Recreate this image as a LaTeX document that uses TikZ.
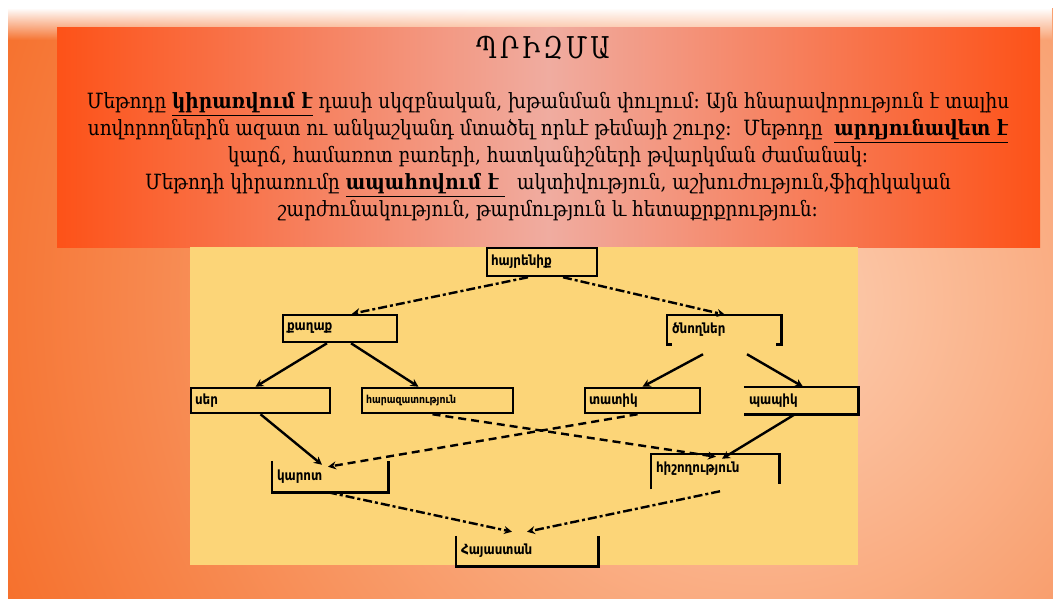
\documentclass[tikz,border=0pt]{standalone}
\usepackage{fontspec}
\usetikzlibrary{arrows.meta,fadings}
\newfontfamily\armserif[FakeStretch=0.88]{DejaVu Serif}
\newfontfamily\armtitle[FakeStretch=0.8]{DejaVu Serif}
\newfontfamily\armsans[FakeStretch=0.85]{DejaVu Sans}
\newcommand\ubf[1]{\underline{\textbf{#1}}}
\newcommand\tsp{\hspace{3pt}}
\definecolor{bgorange}{RGB}{245,102,30}
\definecolor{bglight}{RGB}{252,208,180}
\definecolor{boxred}{RGB}{253,82,24}
\definecolor{boxpink}{RGB}{240,172,160}
\definecolor{panel}{RGB}{252,213,120}
\tikzset{
  wbox/.style={draw=black, line width=2.5pt, minimum height=#1, inner xsep=4pt, inner ysep=0pt,
    align=left, font=\armsans\bfseries\fontsize{14}{16}\selectfont},
  openbox/.style={wbox=#1, draw=none},
  conn/.style={line width=2.4pt, -{Stealth[length=8pt,width=8pt]}},
  dashdotline/.style={conn, dash pattern=on 9pt off 3pt on 3pt off 3pt},
  dashline/.style={conn, dash pattern=on 8pt off 5pt},
  brframe/.style={line width=2.5pt, black}
}
\begin{document}
\begin{tikzpicture}[x=1pt,y=-1pt]
\useasboundingbox (0,0) rectangle (1053,598);
\fill[white] (0,0) rectangle (1053,598);
\begin{scope}
  \clip (8,8) rectangle (1053,598);
  \shade[inner color=bglight, outer color=bgorange] (760,300) circle (900);
  \fill[white, path fading=south] (8,8) rectangle (1053,40);
\end{scope}
% red text box
\shade[left color=boxred, right color=boxred, middle color=boxpink] (57,27) rectangle (1040,247);
% yellow panel
\fill[panel] (190,247) rectangle (858,565);
% title and text
\node[font=\armtitle\fontsize{30}{34}\selectfont, inner sep=0pt] (title) at (543,48) {Պ\tsp Ր\tsp Ի\tsp Զ\tsp Մ\tsp Ա};
\node[font=\armserif\fontsize{21}{27}\selectfont, align=center] (body) at (548,157) {%
Մեթոդը \ubf{կիրառվում է} դասի սկզբնական, խթանման փուլում։ Այն հնարավորություն է տալիս\\
սովորողներին ազատ ու անկաշկանդ մտածել որևէ թեմայի շուրջ։\ \ Մեթոդը\ \ \ubf{արդյունավետ է}\\
կարճ, համառոտ բառերի, հատկանիշների թվարկման ժամանակ։\\
Մեթոդի կիրառումը \ubf{ապահովում է\ }\ \ ակտիվություն, աշխուժություն,ֆիզիկական\\
շարժունակություն, թարմություն և հետաքրքրություն։};
% nodes
\node[wbox=28pt, text width=102pt] (hayr) at (542,262) {հայրենիք};
\node[wbox=27pt, text width=106pt] (qagh) at (340,328.5) {քաղաք};
\node[openbox=27pt, text width=104pt] (cnogh) at (724,329.5) {ծնողներ};
\node[wbox=25pt, text width=131pt] (ser) at (260.5,400.5) {սեր};
\node[wbox=25pt, text width=143pt, font=\armsans\bfseries\fontsize{11}{13}\selectfont] (haraz) at (437.5,400.5) {հարազատություն};
\node[wbox=25pt, text width=107pt] (tatik) at (642.5,400.5) {տատիկ};
\node[openbox=25pt, text width=104pt] (papik) at (801,400.5) {պապիկ};
\node[openbox=29pt, text width=106pt] (karot) at (330,476.5) {կարոտ};
\node[openbox=28pt, text width=118pt] (hish) at (715,469) {հիշողություն};
\node[openbox=28pt, text width=132pt] (hay) at (527,551) {Հայաստան};
% partial frames
\draw[brframe] ([xshift=5pt]cnogh.south west) -- (cnogh.south west) -- (cnogh.north west) -- (cnogh.north east) -- (cnogh.south east) -- ++(-5pt,0);
\draw[brframe] (papik.north west) -- (papik.north east) -- (papik.south east) -- (papik.south west);
\draw[brframe] (karot.north west) |- (karot.south east) -- (karot.north east);
\draw[brframe] ([yshift=-5pt]hish.south west) -- (hish.north west) -- (hish.north east) -- (hish.south east);
\draw[brframe] (hay.north west) |- (hay.south east) -- (hay.north east);
% connectors
\draw[dashdotline] ([xshift=-14pt]hayr.south) -- ([xshift=12pt]qagh.north);
\draw[dashdotline] ([xshift=21pt]hayr.south) -- ([xshift=1pt]cnogh.north);
\draw[conn] ([xshift=-13pt]qagh.south) -- ([xshift=-5pt]ser.north);
\draw[conn] ([xshift=11pt]qagh.south) -- ([xshift=-19pt]haraz.north);
\draw[conn] ([xshift=-21pt,yshift=-10pt]cnogh.south) -- (tatik.north);
\draw[conn] ([xshift=23pt,yshift=-10pt]cnogh.south) -- ([xshift=2pt]papik.north);
\draw[conn] (ser.south) -- ([xshift=-8pt,yshift=-4pt]karot.north);
\draw[dashline] ([xshift=-5pt]tatik.south) -- ([xshift=-2pt,yshift=-6pt]karot.north);
\draw[dashline] ([xshift=-5pt]haraz.south) -- ([xshift=1pt,yshift=-3pt]hish.north);
\draw[conn] ([xshift=-6pt]papik.south) -- ([xshift=7pt,yshift=-5pt]hish.north);
\draw[dashdotline] ([xshift=-2pt]karot.south) -- ([xshift=-15pt,yshift=4pt]hay.north);
\draw[dashdotline] ([xshift=5pt,yshift=-7pt]hish.south) -- ([yshift=4pt]hay.north);
\end{tikzpicture}
\end{document}
